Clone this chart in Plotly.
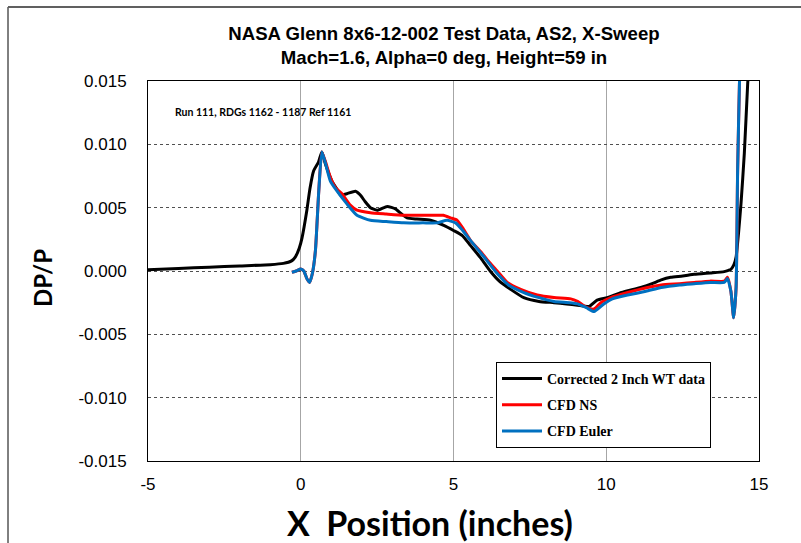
import plotly.graph_objects as go

# ---- data ----
wt_x = [-5, -4, -3, -2, -1, -0.57, -0.3, -0.18, -0.05, 0.04, 0.2, 0.3, 0.42, 0.58, 0.69, 0.8,
        1.02, 1.2, 1.3, 1.51, 1.79, 1.95, 2.1, 2.28, 2.5, 2.83, 3.1, 3.3, 3.48, 3.8, 4.25, 4.68,
        5.0, 5.29, 5.56, 5.9, 6.2, 6.5, 6.87, 7.3, 7.8, 8.29, 8.7, 9.06, 9.44, 9.7, 10.03, 10.5,
        11.13, 11.5, 11.8, 12.11, 12.5, 12.88, 13.4, 13.86, 14.0, 14.08, 14.18, 14.25, 14.33,
        14.41, 14.52, 14.63, 14.7]
wt_y = [0.0001, 0.0002, 0.0003, 0.0004, 0.0005, 0.0006, 0.0008, 0.0011, 0.0018, 0.0026, 0.0048,
        0.0065, 0.0079, 0.0086, 0.0094, 0.0085, 0.0071, 0.0064, 0.0060, 0.0061, 0.0063, 0.0060,
        0.0055, 0.0050, 0.0048, 0.0051, 0.0049, 0.0045, 0.0042, 0.0041, 0.0040, 0.0036, 0.0032,
        0.0028, 0.0020, 0.0010, 0.0000, -0.0008, -0.00145, -0.0021, -0.0024, -0.0025, -0.0026,
        -0.0027, -0.0028, -0.0023, -0.0021, -0.0017, -0.0013, -0.0010, -0.0007, -0.0005, -0.0004,
        -0.00026, -0.00015, -0.00005, 0.00005, 0.00013, 0.0005, 0.0011, 0.0030, 0.0053, 0.0093,
        0.0148, 0.0175]

ns_x = [-0.29, -0.15, 0.0, 0.1, 0.2, 0.29, 0.38, 0.48, 0.59, 0.69, 0.8, 0.97, 1.13, 1.35, 1.62,
        1.84, 2.28, 2.8, 3.37, 4.0, 4.5, 4.67, 4.9, 5.12, 5.3, 5.56, 5.9, 6.1, 6.43, 6.76, 7.2,
        7.74, 8.29, 8.84, 9.06, 9.38, 9.6, 9.82, 10.15, 10.7, 11.35, 11.8, 12.4, 12.88, 13.4,
        13.86, 13.97, 14.08, 14.17, 14.25, 14.3, 14.36, 14.4]
ns_y = [-0.0001, 0.0000, 0.00015, 0.0000, -0.0006, -0.0009, -0.0002, 0.0016, 0.0063, 0.0094,
        0.0087, 0.0074, 0.0066, 0.0061, 0.0052, 0.0048, 0.0046, 0.0045, 0.0044, 0.0044, 0.0044,
        0.0044, 0.0042, 0.0040, 0.0034, 0.0024, 0.0015, 0.0009, 0.0000, -0.0009, -0.00145,
        -0.0019, -0.0021, -0.0022, -0.0024, -0.0029, -0.0030, -0.0025, -0.0021, -0.0017, -0.0013,
        -0.0011, -0.0010, -0.0009, -0.0008, -0.0008, -0.0005, -0.0016, -0.0037, -0.0013, 0.0079,
        0.0148, 0.0175]

eu_x = [-0.29, -0.15, 0.0, 0.1, 0.2, 0.29, 0.38, 0.48, 0.59, 0.69, 0.8, 0.97, 1.19, 1.51, 1.84,
        2.28, 2.8, 3.37, 4.0, 4.46, 4.79, 5.07, 5.3, 5.56, 5.9, 6.1, 6.43, 6.8, 7.3, 7.8, 8.29,
        8.8, 9.06, 9.35, 9.6, 9.92, 10.2, 10.7, 11.3, 11.8, 12.4, 12.88, 13.4, 13.86, 13.97,
        14.08, 14.17, 14.25, 14.3, 14.36, 14.4]
eu_y = [-0.0001, 0.0000, 0.00015, 0.0000, -0.0006, -0.0009, -0.0002, 0.0016, 0.0063, 0.0094,
        0.0086, 0.0071, 0.0063, 0.0053, 0.0044, 0.0040, 0.0039, 0.0038, 0.0038, 0.0038, 0.0040,
        0.0038, 0.0032, 0.0024, 0.0014, 0.0008, -0.0002, -0.0011, -0.0017, -0.0021, -0.0024,
        -0.0025, -0.0026, -0.0029, -0.0032, -0.0026, -0.0022, -0.0019, -0.0016, -0.0013, -0.0011,
        -0.0010, -0.0009, -0.0009, -0.0006, -0.0016, -0.0037, -0.0013, 0.0079, 0.0148, 0.0175]

series_names = ["Corrected 2 Inch WT data", "CFD NS", "CFD Euler"]
series_colors = ["#000000", "#FF0000", "#0070C0"]

x_ticks = [-5, 0, 5, 10, 15]
x_tick_labels = ["-5", "0", "5", "10", "15"]
y_ticks = [-0.015, -0.010, -0.005, 0.0, 0.005, 0.010, 0.015]
y_tick_labels = ["-0.015", "-0.010", "-0.005", "0.000", "0.005", "0.010", "0.015"]

title_text = "NASA Glenn 8x6-12-002 Test Data, AS2, X-Sweep<br>Mach=1.6, Alpha=0 deg, Height=59 in"
run_note = "Run 111, RDGs 1162 - 1187 Ref 1161"
x_title = "X\u00a0 Position (inches)"
y_title = "DP/P"

# ---- figure ----
W, H = 801, 543
ML, MR, MT, MB = 148, 42, 81, 82
PW, PH = W - ML - MR, H - MT - MB


def px_x(px):
    return (px - ML) / PW


def px_y(py):
    return (H - MB - py) / PH


fig = go.Figure()
for xs, ys, name, col, grp in [(wt_x, wt_y, series_names[0], series_colors[0], "a"),
                                (ns_x, ns_y, series_names[1], series_colors[1], "b"),
                                (eu_x, eu_y, series_names[2], series_colors[2], "c")]:
    fig.add_trace(go.Scatter(x=xs, y=ys, mode="lines", name=name, legendgroup=grp,
                             line=dict(color=col, width=3, shape="spline", smoothing=0.5)))

fig.update_layout(
    width=W, height=H,
    margin=dict(l=ML, r=MR, t=MT, b=MB, pad=0),
    paper_bgcolor="white", plot_bgcolor="white",
    font=dict(family="Liberation Sans, Arial, sans-serif", color="black"),
    title=dict(text=title_text, x=px_x(444), xanchor="center", xref="paper",
               y=1 - 40 / H, yref="container", yanchor="middle",
               font=dict(family="Liberation Sans, Arial, sans-serif", size=18.6, weight="bold",
                         color="black")),
    xaxis=dict(range=[-5, 15], tickvals=x_ticks, ticktext=x_tick_labels,
               showgrid=True, gridcolor="#A6A6A6", gridwidth=1, zeroline=False,
               showline=True, linecolor="black", linewidth=1, mirror=True,
               ticks="", tickfont=dict(size=17), ticklabelstandoff=8),
    yaxis=dict(range=[-0.015, 0.015], tickvals=y_ticks, ticktext=y_tick_labels,
               showgrid=True, gridcolor="#505050", gridwidth=1, griddash="dot", zeroline=False,
               showline=True, linecolor="black", linewidth=1, mirror=True,
               ticks="", tickfont=dict(size=17), ticklabelstandoff=17),
    legend=dict(x=px_x(496), y=px_y(362), xanchor="left", yanchor="top",
                bgcolor="white", bordercolor="black", borderwidth=1,
                font=dict(family="Liberation Serif, Times New Roman, serif", size=14,
                          weight="bold", color="black"),
                tracegroupgap=5, itemwidth=40),
    showlegend=True,
)

fig.add_annotation(text=run_note, xref="paper", yref="paper", x=px_x(173), y=px_y(112),
                   xanchor="left", yanchor="middle", showarrow=False,
                   font=dict(family="Lato, Calibri, sans-serif", size=10.5, weight="bold",
                             color="black"))
fig.add_annotation(text=x_title, xref="paper", yref="paper", x=px_x(430), y=px_y(522),
                   xanchor="center", yanchor="middle", showarrow=False,
                   font=dict(family="Lato, Calibri, sans-serif", size=34, weight="bold",
                             color="black"))
fig.add_annotation(text=y_title, xref="paper", yref="paper", x=px_x(42), y=px_y(278),
                   xanchor="center", yanchor="middle", showarrow=False, textangle=-90,
                   font=dict(family="Lato, Calibri, sans-serif", size=24, weight="bold",
                             color="black"))

# outer chart border (left and top edges visible)
fig.add_shape(type="line", xref="paper", yref="paper", x0=px_x(8), x1=px_x(8),
              y0=px_y(H + 2), y1=px_y(7), line=dict(color="#000000", width=1))
fig.add_shape(type="line", xref="paper", yref="paper", x0=px_x(8), x1=px_x(W + 2),
              y0=px_y(7), y1=px_y(7), line=dict(color="#606060", width=2))

fig.write_html("out.html")
